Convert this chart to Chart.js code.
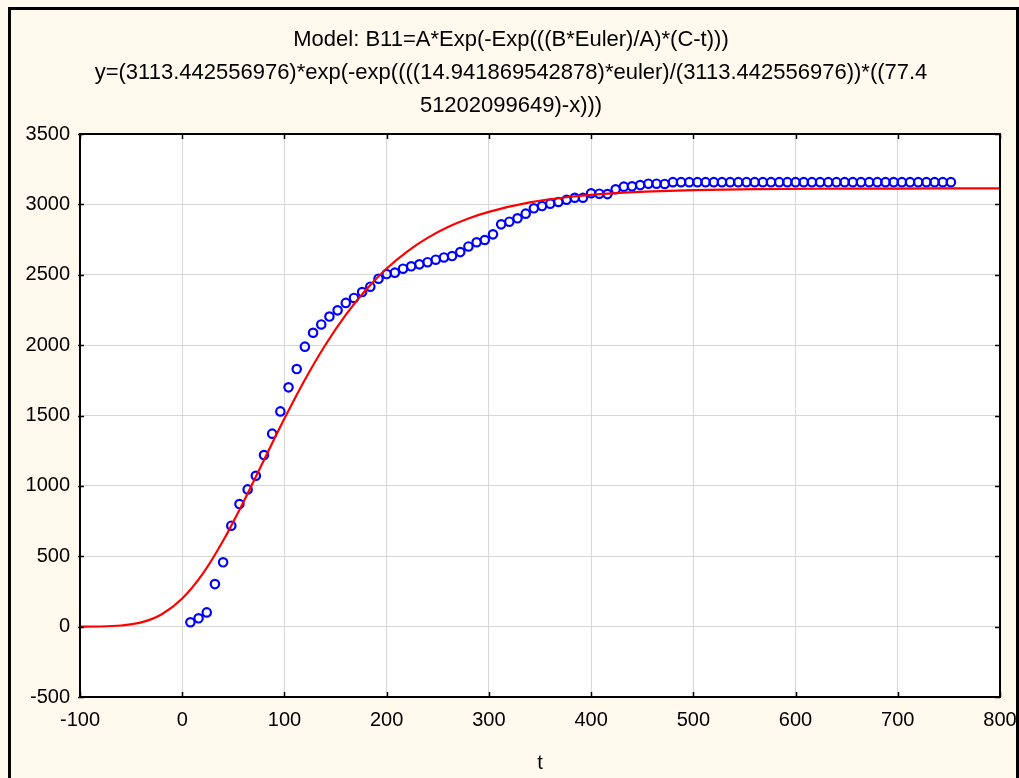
<!DOCTYPE html>
<html>
<head>
<meta charset="utf-8">
<script src="https://cdn.jsdelivr.net/npm/chart.js@4.4.1/dist/chart.umd.min.js"></script>
<style>
  html, body { margin: 0; padding: 0; background: #FFF9EE; }
  #wrap { position: absolute; left: 0; top: 0; width: 1019px; height: 778px; }
</style>
</head>
<body>
<div id="wrap"><canvas id="c" width="1019" height="778"></canvas></div>
<script>
// ---- data ----
const titleLines = [
  "Model: B11=A*Exp(-Exp(((B*Euler)/A)*(C-t)))",
  "y=(3113.442556976)*exp(-exp((((14.941869542878)*euler)/(3113.442556976))*((77.4",
  "51202099649)-x)))"
];
const xAxisTitle = "t";

// observed points (t, B11)
const obsT = [8,16,24,32,40,48,56,64,72,80,88,96,104,112,120,128,136,144,152,160,
  168,176,184,192,200,208,216,224,232,240,248,256,264,272,280,288,296,304,312,320,
  328,336,344,352,360,368,376,384,392,400,408,416,424,432,440,448,456,464,472,480,
  488,496,504,512,520,528,536,544,552,560,568,576,584,592,600,608,616,624,632,640,
  648,656,664,672,680,688,696,704,712,720,728,736,744,752];
const obsY = [31,59,101,302,457,717,871,975,1072,1219,1371,1529,1700,1830,1989,2088,2147,2203,2247,2300,
  2335,2377,2415,2472,2505,2515,2543,2560,2574,2589,2607,2623,2633,2661,2701,2731,2747,2787,2858,2877,
  2901,2934,2972,2988,3005,3017,3033,3047,3047,3079,3076,3073,3107,3126,3128,3137,3147,3147,3145,3158,
  3158,3158,3158,3158,3158,3158,3158,3158,3158,3158,3158,3158,3158,3158,3158,3158,3158,3158,3158,3158,
  3158,3158,3158,3158,3158,3158,3158,3158,3158,3158,3158,3158,3158,3158];

// fitted curve
const fitT = [-100,-80,-60,-40,-20,0,20,40,60,80,100,120,140,160,180,200,220,240,260,280,300,
  340,380,420,460,500,560,620,680,740,800];
const fitY = [0,1,8,30,88,200,375,610,887,1184,1478,1754,2001,2215,2395,2544,2665,2762,2839,2900,2947,
  3014,3054,3078,3092,3101,3108,3111,3112,3113,3113];

const xTicks = [-100,0,100,200,300,400,500,600,700,800];
const yTicks = [-500,0,500,1000,1500,2000,2500,3000,3500];

const FONT = "'Liberation Sans', Arial, sans-serif";

const decor = {
  id: 'decor',
  beforeDraw(chart) {
    const ctx = chart.ctx, a = chart.chartArea;
    ctx.save();
    ctx.fillStyle = '#FFF9EE';
    ctx.fillRect(0, 0, chart.width, chart.height);
    ctx.strokeStyle = '#000';
    ctx.lineWidth = 3;
    ctx.beginPath();
    ctx.moveTo(9.5, 800);
    ctx.lineTo(9.5, 8.5);
    ctx.lineTo(1017.5, 8.5);
    ctx.lineTo(1017.5, 800);
    ctx.stroke();
    ctx.fillStyle = '#FFFFFF';
    ctx.fillRect(a.left, a.top, a.right - a.left, a.bottom - a.top);
    ctx.restore();
  },
  afterDraw(chart) {
    const ctx = chart.ctx, a = chart.chartArea;
    const xs = chart.scales.x, ys = chart.scales.y;
    ctx.save();
    ctx.strokeStyle = '#000';
    ctx.lineWidth = 2;
    ctx.strokeRect(a.left, a.top, a.right - a.left, a.bottom - a.top);
    ctx.lineWidth = 1.5;
    ctx.beginPath();
    xTicks.forEach(v => {
      const px = Math.round(xs.getPixelForValue(v)) + 0.5;
      ctx.moveTo(px, a.bottom); ctx.lineTo(px, a.bottom - 5);
      ctx.moveTo(px, a.top); ctx.lineTo(px, a.top + 5);
    });
    yTicks.forEach(v => {
      const py = Math.round(ys.getPixelForValue(v)) + 0.5;
      ctx.moveTo(a.left - 2, py); ctx.lineTo(a.left + 4, py);
      ctx.moveTo(a.right, py); ctx.lineTo(a.right - 5, py);
    });
    ctx.stroke();
    ctx.restore();
  }
};

new Chart(document.getElementById('c'), {
  type: 'scatter',
  data: {
    datasets: [
      {
        label: 'fit',
        data: fitT.map((t, i) => ({x: t, y: fitY[i]})),
        showLine: true,
        borderColor: '#FF0000',
        borderWidth: 2.2,
        pointRadius: 0,
        cubicInterpolationMode: 'monotone',
        fill: false
      },
      {
        label: 'B11',
        data: obsT.map((t, i) => ({x: t, y: obsY[i]})),
        showLine: false,
        pointStyle: 'circle',
        pointRadius: 4.2,
        pointBorderWidth: 2.2,
        pointBorderColor: '#0000FF',
        pointBackgroundColor: 'rgba(255,255,255,0)'
      }
    ]
  },
  options: {
    responsive: false,
    animation: false,
    layout: { padding: { left: 22, right: 19, top: 0, bottom: 0 } },
    plugins: {
      legend: { display: false },
      tooltip: { enabled: false },
      title: {
        display: true,
        text: titleLines,
        color: '#000',
        font: { family: FONT, size: 22, weight: 'normal', lineHeight: 1.5 },
        padding: { top: 23.5, bottom: 11.5 }
      }
    },
    scales: {
      x: {
        type: 'linear',
        min: -100, max: 800,
        afterBuildTicks: s => { s.ticks = xTicks.map(v => ({value: v})); },
        ticks: { color: '#000', font: { family: FONT, size: 20 }, padding: 11, maxRotation: 0, autoSkip: false,
                 callback: v => String(v) },
        grid: { color: '#D6D6D6', lineWidth: 1, drawTicks: false },
        border: { display: false },
        title: { display: true, text: xAxisTitle, color: '#000', font: { family: FONT, size: 20, lineHeight: 1.2 }, padding: { top: 0, bottom: 3 } },
        afterFit: s => { s.height = 81; s.paddingLeft = 0; s.paddingRight = 0; }
      },
      y: {
        type: 'linear',
        min: -500, max: 3500,
        afterBuildTicks: s => { s.ticks = yTicks.map(v => ({value: v})); },
        ticks: { color: '#000', font: { family: FONT, size: 20 }, padding: 10, autoSkip: false,
                 callback: v => String(v) },
        grid: { color: '#D6D6D6', lineWidth: 1, drawTicks: false },
        border: { display: false },
        afterFit: s => { s.width = 58; s.paddingTop = 0; s.paddingBottom = 0; }
      }
    }
  },
  plugins: [decor]
});
</script>
</body>
</html>
